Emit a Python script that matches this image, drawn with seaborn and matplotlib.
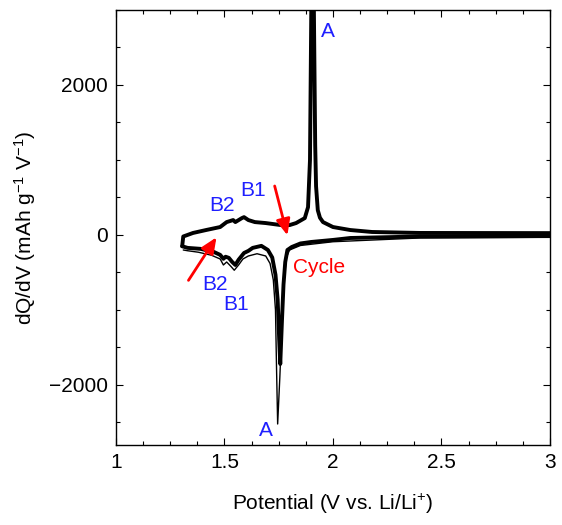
import matplotlib
matplotlib.use("Agg")
import matplotlib.pyplot as plt
from matplotlib.ticker import MultipleLocator, FuncFormatter
import pandas as pd
import seaborn as sns

# dQ/dV curves
# charge branch (later cycles overlap into one thick band)
charge_v = [1.305, 1.31, 1.355, 1.415, 1.48, 1.51, 1.54, 1.55, 1.58, 1.59, 1.61,
            1.64, 1.69, 1.76, 1.80, 1.83, 1.87, 1.885, 1.894, 1.900, 1.905,
            1.912, 1.918, 1.922, 1.93, 1.94, 1.954, 2.0, 2.08, 2.18, 2.40, 3.0]
charge_q = [-150, -20, 27, 66, 106, 172, 199, 172, 225, 238, 199,
            172, 159, 132, 132, 159, 225, 371, 1000, 3000, 5000,
            3000, 1200, 650, 330, 230, 172, 106, 66, 40, 27, 25]

# discharge branch, later cycles (thick band)
discharge_v = [3.0, 2.4, 2.08, 2.0, 1.9, 1.85, 1.81, 1.79, 1.78, 1.772, 1.765,
               1.757, 1.752, 1.745, 1.735, 1.72, 1.70, 1.67, 1.63, 1.61, 1.59,
               1.565, 1.55, 1.535, 1.52, 1.505, 1.495, 1.48, 1.45, 1.39, 1.33, 1.305]
discharge_q = [-15, -20, -40, -66, -93, -113, -160, -200, -360, -660, -1130,
               -1720, -1390, -860, -530, -300, -200, -145, -172, -212, -240,
               -330, -400, -358, -305, -290, -318, -265, -225, -185, -172, -150]

# discharge branch, first cycle (thin, deeper)
first_v = [3.0, 2.4, 2.0, 1.85, 1.8, 1.785, 1.775, 1.765, 1.755, 1.745, 1.740,
           1.735, 1.725, 1.71, 1.69, 1.65, 1.61, 1.585, 1.565, 1.545, 1.53,
           1.51, 1.495, 1.48, 1.44, 1.38, 1.33, 1.31]
first_q = [-30, -40, -90, -140, -200, -300, -600, -1200, -1900, -2520, -1800,
           -1000, -600, -380, -280, -250, -280, -320, -400, -470, -420,
           -360, -400, -320, -270, -230, -210, -200]

sns.set_theme(style="ticks")
plt.rcParams["font.family"] = ["Liberation Sans", "DejaVu Sans"]
plt.rcParams["mathtext.default"] = "regular"
plt.rcParams["xtick.direction"] = "in"
plt.rcParams["ytick.direction"] = "in"
plt.rcParams["text.color"] = "black"
plt.rcParams["axes.labelcolor"] = "black"
plt.rcParams["xtick.color"] = "black"
plt.rcParams["ytick.color"] = "black"

df_charge = pd.DataFrame({"V": charge_v, "Q": charge_q})
df_dis = pd.DataFrame({"V": discharge_v, "Q": discharge_q})
df_first = pd.DataFrame({"V": first_v, "Q": first_q})

fig = plt.figure(figsize=(5.62, 5.25), dpi=100)
ax = fig.add_axes([0.2064, 0.1524, 0.7722, 0.8286])

sns.lineplot(data=df_first, x="V", y="Q", sort=False, estimator=None,
             color="black", linewidth=1.0, ax=ax)
sns.lineplot(data=df_dis, x="V", y="Q", sort=False, estimator=None,
             color="black", linewidth=2.8, ax=ax)
sns.lineplot(data=df_charge, x="V", y="Q", sort=False, estimator=None,
             color="black", linewidth=2.8, ax=ax)

fs = 15
ax.set_xlim(1, 3)
ax.set_ylim(-2800, 3000)
ax.xaxis.set_major_locator(MultipleLocator(0.5))
ax.xaxis.set_minor_locator(MultipleLocator(0.125))
ax.yaxis.set_major_locator(MultipleLocator(2000))
ax.yaxis.set_minor_locator(MultipleLocator(500))
ax.xaxis.set_major_formatter(FuncFormatter(lambda v, p: f"{v:g}"))
ax.yaxis.set_major_formatter(FuncFormatter(lambda v, p: f"{v:.0f}".replace("-", "\u2212")))
ax.tick_params(which="both", top=True, right=True, labelsize=fs,
               color="black", labelcolor="black")
ax.tick_params(which="major", length=5, width=0.8, pad=6)
ax.tick_params(which="minor", length=3, width=0.8)
for s in ax.spines.values():
    s.set_color("black")
    s.set_linewidth(1.0)

ax.set_xlabel("Potential (V vs. Li/Li$^{+}$)", fontsize=fs, labelpad=14, color="black")
ax.set_ylabel("dQ/dV (mAh g$^{-1}$ V$^{-1}$)", fontsize=fs, labelpad=8, color="black")

blue = "#1f1fff"
red = "#ff0000"
ax.text(1.977, 2716, "A", color=blue, fontsize=fs, ha="center", va="center")
ax.text(1.691, -2610, "A", color=blue, fontsize=fs, ha="center", va="center")
ax.text(1.488, 397, "B2", color=blue, fontsize=fs, ha="center", va="center")
ax.text(1.631, 596, "B1", color=blue, fontsize=fs, ha="center", va="center")
ax.text(1.456, -662, "B2", color=blue, fontsize=fs, ha="center", va="center")
ax.text(1.553, -927, "B1", color=blue, fontsize=fs, ha="center", va="center")
ax.text(1.815, -437, "Cycle", color=red, fontsize=fs, ha="left", va="center")

arrow = dict(arrowstyle="-|>,head_length=0.8,head_width=0.35", color=red, lw=2)
ax.annotate("", xy=(1.793, -40), xytext=(1.728, 689), arrowprops=arrow)
ax.annotate("", xy=(1.47, 0), xytext=(1.327, -636), arrowprops=arrow)

fig.savefig("out.png", dpi=100)
